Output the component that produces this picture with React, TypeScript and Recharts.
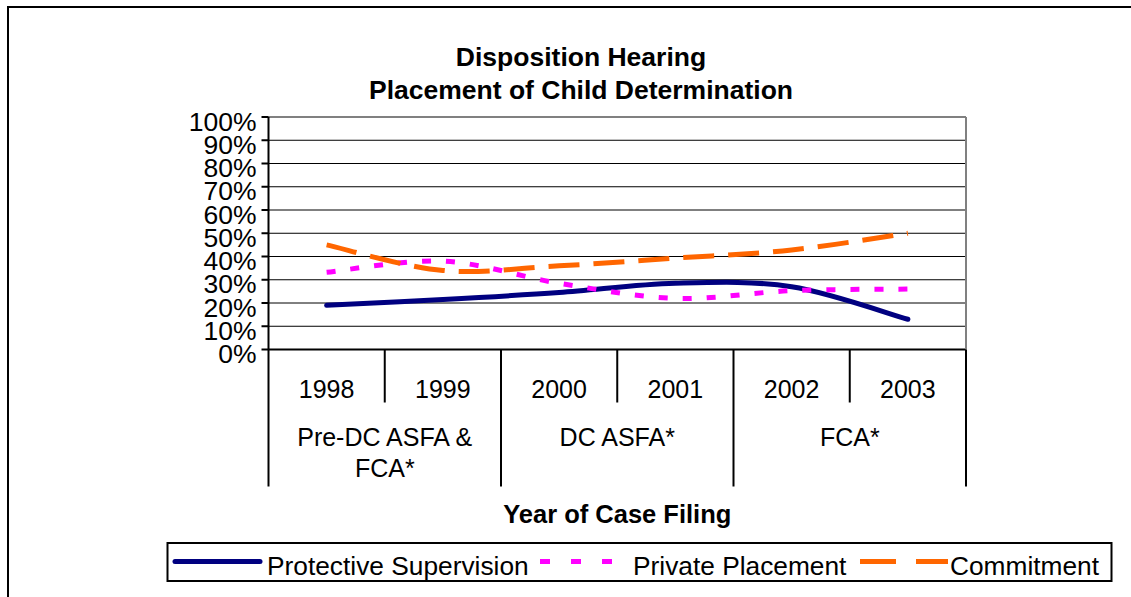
import React from 'react';
import { LineChart, Line, XAxis, YAxis, CartesianGrid } from 'recharts';

// ---------- data ----------
const years = ['1998', '1999', '2000', '2001', '2002', '2003'];
const periods = [
  'Pre-DC ASFA & FCA*',
  'Pre-DC ASFA & FCA*',
  'DC ASFA*',
  'DC ASFA*',
  'FCA*',
  'FCA*',
];
const protectiveSupervision = [19, 21.5, 24.5, 28.5, 27, 13];
const privatePlacement = [33.2, 38, 28.5, 22, 25.3, 26];
const commitment = [45, 34, 36, 39.3, 42.8, 50];
const yTicks = [0, 10, 20, 30, 40, 50, 60, 70, 80, 90, 100];
const titleLines = ['Disposition Hearing', 'Placement of Child Determination'];
const xAxisTitle = 'Year of Case Filing';

const series = [
  { key: 'protective', name: 'Protective Supervision', color: '#000080', dash: undefined as string | undefined, legendDash: undefined as string | undefined, cap: 'round' },
  { key: 'private', name: 'Private Placement', color: '#FF00FF', dash: '9 15', legendDash: '10 21', cap: 'butt' },
  { key: 'commitment', name: 'Commitment', color: '#FF6600', dash: '31 14', legendDash: '36 20', cap: 'butt' },
];

// ---------- layout ----------
const W = 1131;
const H = 597;
const FONT = "'Liberation Sans', Arial, Helvetica, sans-serif";
const PLOT_LEFT = 268.5;
const PLOT_RIGHT = 966;
const PLOT_TOP = 117;
const PLOT_BOTTOM = 349.5;
const Y_AXIS_W = 80;
const PLOT_W = PLOT_RIGHT - PLOT_LEFT;
const MARGIN = {
  top: PLOT_TOP - 1,
  left: PLOT_LEFT - Y_AXIS_W,
  right: W - PLOT_RIGHT - 1,
  bottom: H - PLOT_BOTTOM - 1,
};

// Excel-like smoothing (Catmull-Rom as cubic Bezier)
const excelSmooth = (context: any) => {
  let pts: [number, number][] = [];
  return {
    areaStart() {},
    areaEnd() {},
    lineStart() {
      pts = [];
    },
    point(x: number, y: number) {
      pts.push([+x, +y]);
    },
    lineEnd() {
      const n = pts.length;
      if (!n) return;
      context.moveTo(pts[0][0], pts[0][1]);
      for (let i = 0; i < n - 1; i++) {
        const p0 = pts[Math.max(i - 1, 0)];
        const p1 = pts[i];
        const p2 = pts[i + 1];
        const p3 = pts[Math.min(i + 2, n - 1)];
        context.bezierCurveTo(
          p1[0] + (p2[0] - p0[0]) / 6,
          p1[1] + (p2[1] - p0[1]) / 6,
          p2[0] - (p3[0] - p1[0]) / 6,
          p2[1] - (p3[1] - p1[1]) / 6,
          p2[0],
          p2[1]
        );
      }
    },
  };
};

const wrapLines = (label: string, maxChars: number) => {
  const words = label.split(' ');
  const lines: string[] = [];
  let cur = '';
  words.forEach((w) => {
    const next = cur ? cur + ' ' + w : w;
    if (next.length > maxChars && cur) {
      lines.push(cur);
      cur = w;
    } else {
      cur = next;
    }
  });
  if (cur) lines.push(cur);
  return lines;
};

const YTick = (props: any) => {
  const { x, y, payload } = props;
  return (
    <text x={x} y={y + 4} dy="0.36em" textAnchor="end" fontSize={26.5} fontFamily={FONT} fill="#000">
      {payload.value}%
    </text>
  );
};

const XTick = (props: any) => {
  const { x, index } = props;
  const y = PLOT_BOTTOM;
  const band = PLOT_W / years.length;
  const isGroupStart = index === 0 || periods[index - 1] !== periods[index];
  const isGroupEnd = index === years.length - 1 || periods[index + 1] !== periods[index];
  const full = 137;
  const short = 53;
  let span = 1;
  while (index + span < periods.length && periods[index + span] === periods[index]) span++;
  const groupCenter = x - band / 2 + (span * band) / 2;
  const lines = isGroupStart ? wrapLines(periods[index], 14) : [];
  return (
    <g>
      {index === 0 && (
        <line x1={x - band / 2} x2={x - band / 2} y1={y} y2={y + full} stroke="#000" strokeWidth={2} />
      )}
      <line
        x1={x + band / 2}
        x2={x + band / 2}
        y1={y}
        y2={y + (isGroupEnd ? full : short)}
        stroke="#000"
        strokeWidth={2}
      />
      <text x={x} y={y + 48} textAnchor="middle" fontSize={25} fontFamily={FONT} fill="#000">
        {years[index]}
      </text>
      {lines.map((ln, i) => (
        <text
          key={i}
          x={groupCenter}
          y={y + 96 + i * 31.5}
          textAnchor="middle"
          fontSize={25}
          fontFamily={FONT}
          fill="#000"
        >
          {ln}
        </text>
      ))}
    </g>
  );
};

export default function App() {
  const data = years.map((year, i) => ({
    year,
    period: periods[i],
    protective: protectiveSupervision[i],
    private: privatePlacement[i],
    commitment: commitment[i],
  }));

  // legend layout (sample start, sample end, text x)
  const legendPos = [
    { s1: 175, s2: 260, tx: 267 },
    { s1: 540, s2: 612, tx: 633 },
    { s1: 860, s2: 948, tx: 950 },
  ];

  return (
    <div style={{ position: 'absolute', left: 0, top: 0, width: W, height: H, overflow: 'hidden', background: '#fff' }}>
      <div style={{ position: 'absolute', left: 0, top: 0 }}>
        <LineChart width={W} height={H} data={data} margin={MARGIN}>
          <CartesianGrid vertical={false} stroke="#000" strokeWidth={1} />
          <XAxis
            xAxisId={0}
            dataKey="year"
            scale="band"
            height={1}
            interval={0}
            tickSize={0}
            tickMargin={0}
            tickLine={false}
            axisLine={{ stroke: '#000', strokeWidth: 2 }}
            tick={(p: any) => <XTick {...p} />}
          />
          <XAxis
            xAxisId="top"
            dataKey="year"
            scale="band"
            orientation="top"
            height={1}
            tick={false}
            tickLine={false}
            axisLine={{ stroke: '#808080', strokeWidth: 2 }}
          />
          <YAxis
            yAxisId={0}
            width={Y_AXIS_W}
            domain={[0, 100]}
            ticks={yTicks}
            interval={0}
            tickSize={7}
            tickMargin={5}
            axisLine={{ stroke: '#000', strokeWidth: 2 }}
            tickLine={{ stroke: '#000', strokeWidth: 2 }}
            tick={(p: any) => <YTick {...p} />}
          />
          <YAxis
            yAxisId="right"
            orientation="right"
            width={1}
            domain={[0, 100]}
            tick={false}
            tickLine={false}
            axisLine={{ stroke: '#808080', strokeWidth: 2 }}
          />
          {series.map((s) => (
            <Line
              key={s.key}
              xAxisId={0}
              yAxisId={0}
              dataKey={s.key}
              name={s.name}
              type={excelSmooth as any}
              stroke={s.color}
              strokeWidth={5}
              strokeDasharray={s.dash}
              strokeLinecap={s.cap as any}
              dot={false}
              activeDot={false}
              isAnimationActive={false}
            />
          ))}
        </LineChart>
      </div>
      <svg
        width={W}
        height={H}
        style={{ position: 'absolute', left: 0, top: 0, pointerEvents: 'none' }}
      >
        <rect x={8} y={7} width={1300} height={800} fill="none" stroke="#000" strokeWidth={2} />
        {titleLines.map((t, i) => (
          <text
            key={i}
            x={581}
            y={66 + i * 32.5}
            textAnchor="middle"
            fontSize={26.5}
            fontWeight="bold"
            fontFamily={FONT}
            fill="#000"
          >
            {t}
          </text>
        ))}
        <text
          x={PLOT_LEFT + PLOT_W / 2}
          y={523}
          textAnchor="middle"
          fontSize={25.5}
          fontWeight="bold"
          fontFamily={FONT}
          fill="#000"
        >
          {xAxisTitle}
        </text>
        <rect x={167.5} y={543} width={944} height={38} fill="none" stroke="#000" strokeWidth={2} />
        {series.map((s, i) => {
          const p = legendPos[i];
          return (
            <g key={s.key}>
              <line
                x1={p.s1}
                x2={p.s2}
                y1={561.5}
                y2={561.5}
                stroke={s.color}
                strokeWidth={5}
                strokeDasharray={s.legendDash}
                strokeLinecap={s.cap as any}
              />
              <text x={p.tx} y={574.5} fontSize={26.3} fontFamily={FONT} fill="#000">
                {s.name}
              </text>
            </g>
          );
        })}
      </svg>
    </div>
  );
}
